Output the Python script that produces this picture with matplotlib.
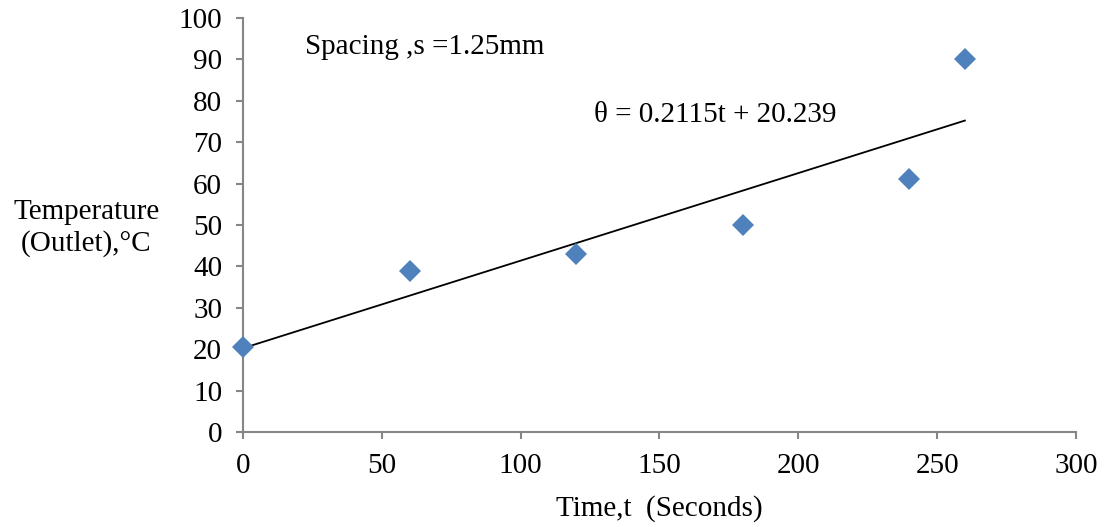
import numpy as np
import matplotlib.pyplot as plt

# 数据
time_s = [0, 60, 120, 180, 240, 260]
temp_c = [20.5, 39, 43, 50, 61, 90]

# 趋势线系数（图中给出的方程）
slope, intercept = 0.2115, 20.239

x_ticks = [0, 50, 100, 150, 200, 250, 300]
y_ticks = [0, 10, 20, 30, 40, 50, 60, 70, 80, 90, 100]

plt.rcParams['font.family'] = ['Liberation Serif', 'DejaVu Serif']
plt.rcParams['font.size'] = 21

fig = plt.figure(figsize=(11.09, 5.27), dpi=100)
ax = fig.add_axes([0.2191, 0.1803, 0.7511, 0.7855])

axis_color = '#868686'

# 趋势线
t_fit = np.array([min(time_s), max(time_s)])
ax.plot(t_fit, slope * t_fit + intercept, color='black', lw=1.3, zorder=2)

# 散点
ax.plot(time_s, temp_c, linestyle='none', marker='D', ms=11,
        color='#4F81BD', markeredgewidth=0, zorder=3, clip_on=False)

ax.set_xlim(0, 300)
ax.set_ylim(0, 100)
ax.set_xticks(x_ticks)
ax.set_yticks(y_ticks)

for s in ['top', 'right']:
    ax.spines[s].set_visible(False)
for s in ['left', 'bottom']:
    ax.spines[s].set_color(axis_color)
    ax.spines[s].set_linewidth(1.5)

ax.tick_params(axis='both', direction='out', length=5, width=1.5,
               color=axis_color, labelsize=21)
ax.tick_params(axis='y', pad=10)
ax.tick_params(axis='x', pad=10)

ax.set_xlabel('Time,t  (Seconds)', fontsize=21, labelpad=12)
fig.text(0.078, 0.567, 'Temperature\n(Outlet),°C', ha='center', va='center',
         fontsize=21, linespacing=1.25)

ax.text(0.075, 0.93, 'Spacing ,s =1.25mm', transform=ax.transAxes,
        fontsize=21, va='center', ha='left')
ax.text(0.422, 0.766, 'θ = 0.2115t + 20.239', transform=ax.transAxes,
        fontsize=21, va='center', ha='left')

plt.savefig('out.png', dpi=100)
